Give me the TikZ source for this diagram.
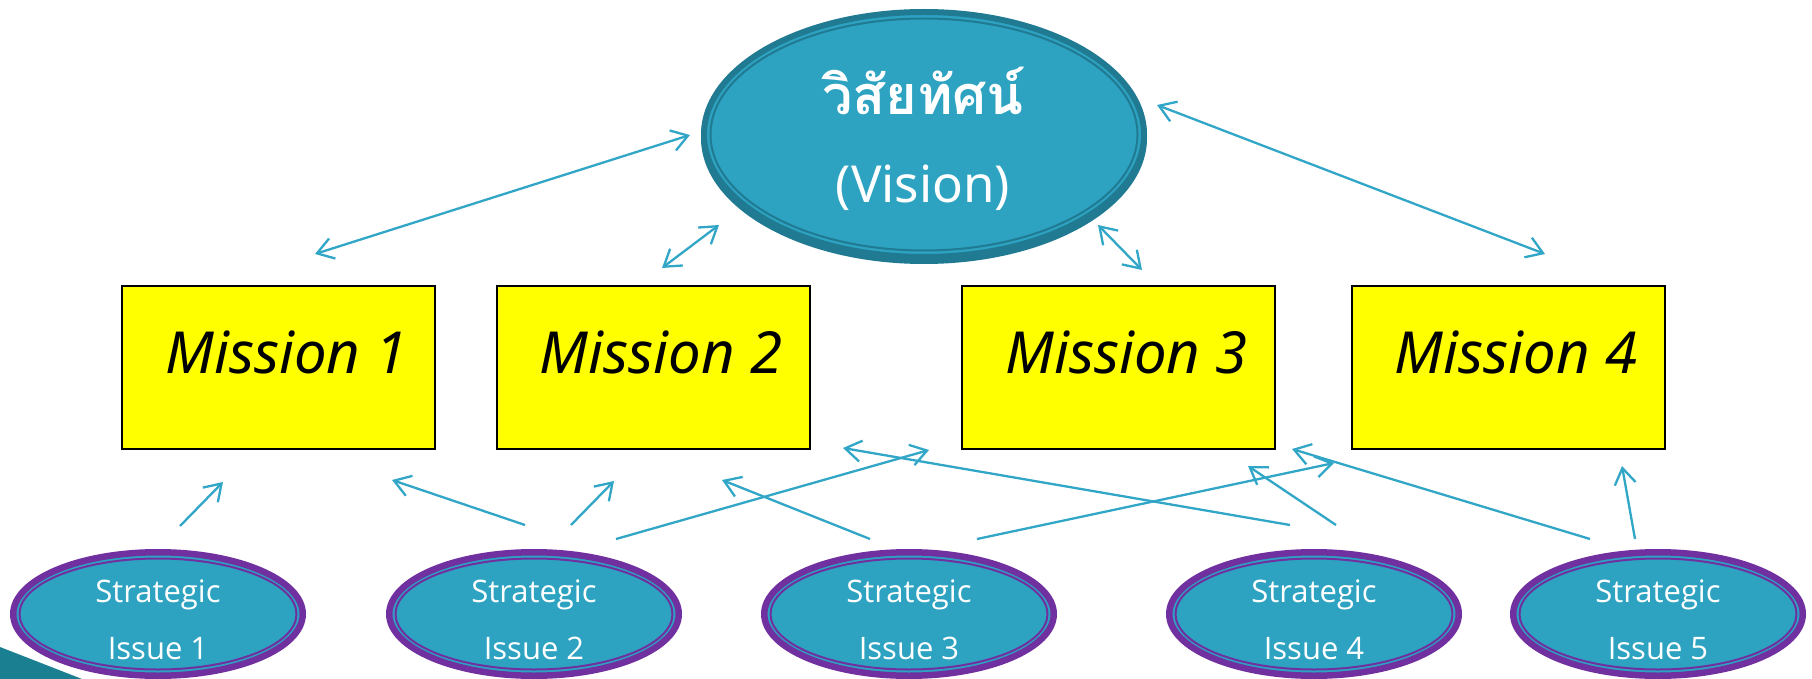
\documentclass[tikz,border=0pt]{standalone}
\usepackage{fontspec}
\setmainfont{Noto Sans}
\newfontfamily\thaifont[Script=Thai]{Loma}
\newfontfamily\issuefont{Open Sans}
\usetikzlibrary{arrows.meta,shapes.geometric}
\definecolor{tealfill}{RGB}{45,163,193}
\definecolor{tealdark}{RGB}{31,122,146}
\definecolor{purp}{RGB}{112,48,160}
\definecolor{arrc}{RGB}{49,166,199}
\definecolor{decor}{RGB}{26,127,145}
\definecolor{boxyellow}{RGB}{255,255,0}
\begin{document}
\begin{tikzpicture}[x=1pt,y=-1pt,
  mission/.style={rectangle, draw=black, line width=2pt, fill=boxyellow, minimum width=313pt, minimum height=163pt, inner sep=0pt},
  mtext/.style={anchor=base, inner sep=0pt, font=\itshape\fontsize{58}{62}\selectfont},
  issue/.style={ellipse, draw=purp, line width=6.5pt, fill=tealfill, minimum width=289.5pt, minimum height=123.5pt, inner sep=0pt},
  itext/.style={anchor=base, inner sep=0pt, text=white, font=\issuefont\fontsize{31}{36}\selectfont},
  inring/.style={draw=purp, line width=2pt},
  vtext/.style={anchor=base, inner sep=0pt, text=white},
  arr/.style={draw=arrc, line width=2.3pt, -{Straight Barb[length=16pt,width=21pt]}},
  darr/.style={draw=arrc, line width=2.3pt, {Straight Barb[length=16pt,width=21pt]}-{Straight Barb[length=16pt,width=21pt]}},
]
\useasboundingbox (0,0) rectangle (1812,679);

% corner decoration
\fill[decor] (0,647) -- (82,679) -- (0,679) -- cycle;

% vision
\fill[tealdark] (924,138) ellipse (223 and 126);
\node[ellipse, draw=tealdark, line width=6pt, fill=tealfill, minimum width=440pt, minimum height=245pt, inner sep=0pt] (v) at (924,134.5) {};
\draw[tealdark, line width=2pt] (v.center) ellipse (213.5 and 116);
\node[vtext, font=\thaifont\bfseries\fontsize{54}{60}\selectfont] (vt1) at (923,115) {วิสัยทัศน์};
\node[vtext, font=\fontsize{51}{58}\selectfont] (vt2) at (923,203) {(Vision)};

% missions
\node[mission] (m1) at (278.5,367.5) {};
\node[mission] (m2) at (653,367.5) {};
\node[mission] (m3) at (1118.5,367.5) {};
\node[mission] (m4) at (1508,367.5) {};
\node[mtext] (m1t) at (286.5,373) {Mission 1};
\node[mtext] (m2t) at (661,373) {Mission 2};
\node[mtext] (m3t) at (1126.5,373) {Mission 3};
\node[mtext] (m4t) at (1516,373) {Mission 4};

% strategic issues
\foreach \n/\x in {1/158,2/534,3/909,4/1314,5/1658}{
  \node[issue] (s\n) at (\x,614) {};
  \draw[inring] (s\n.center) ellipse (138.5 and 55.5);
  \node[itext] (s\n a) at (\x,602) {Strategic};
  \node[itext] (s\n b) at (\x,659) {Issue \n};
}

% arrow end points
\coordinate (a1s) at (315,254);  \coordinate (a1e) at (690,135);
\coordinate (a2s) at (662,268);  \coordinate (a2e) at (719,225);
\coordinate (a3s) at (1098,225); \coordinate (a3e) at (1142,270);
\coordinate (a4s) at (1157,105); \coordinate (a4e) at (1545,254);
\draw[darr] (a1s) -- (a1e);
\draw[darr] (a2s) -- (a2e);
\draw[darr] (a3s) -- (a3e);
\draw[darr] (a4s) -- (a4e);

\coordinate (b1s) at (180,526);  \coordinate (b1e) at (223,482);
\coordinate (b2s) at (525,525);  \coordinate (b2e) at (392,480);
\coordinate (b3s) at (571,525);  \coordinate (b3e) at (614,481);
\coordinate (b4s) at (616,539);  \coordinate (b4e) at (929,450);
\coordinate (b5s) at (870,539);  \coordinate (b5e) at (722,480);
\coordinate (b6s) at (1290,525); \coordinate (b6e) at (843,448);
\coordinate (b7s) at (977,539);  \coordinate (b7e) at (1334,463);
\coordinate (b8s) at (1336,525); \coordinate (b8e) at (1248,466);
\coordinate (b9s) at (1590,539); \coordinate (b9e) at (1292,449);
\coordinate (b10s) at (1635,539); \coordinate (b10e) at (1622,466);
\foreach \k in {1,...,10}{
  \draw[arr] (b\k s) -- (b\k e);
}
\end{tikzpicture}
\end{document}
